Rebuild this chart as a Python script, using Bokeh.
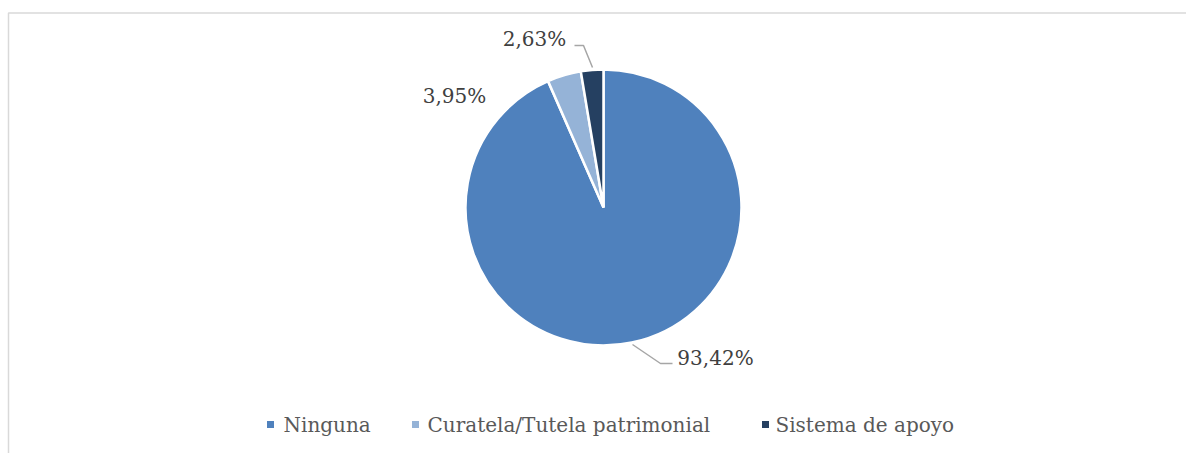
import math
from bokeh.plotting import figure
from bokeh.models import Range1d, ColumnDataSource
from bokeh.core.properties import value
from bokeh.embed import file_html
from bokeh.resources import INLINE

# ---- data ----
categories = ["Ninguna", "Curatela/Tutela patrimonial", "Sistema de apoyo"]
shares = [93.42, 3.95, 2.63]
pct_labels = ["93,42%", "3,95%", "2,63%"]
colors = ["#4F81BD", "#95B3D7", "#254061"]

# ---- layout (page pixel coordinates) ----
W, H = 1186, 453
def py(y):  # page y -> data y
    return H - y

cx, cy, R = 603, 207, 138
label_pos = [(715, 357), (454, 95), (534, 38)]
leaders = [[(632, 344), (660, 363), (672, 363)], [], [(574, 45), (583, 45), (592, 67)]]
legend_sq_x = [270, 415, 765]
legend_txt_x = [283, 427, 775]
legend_y = 424
FONT = value("DejaVu Serif")

p = figure(width=W, height=H, output_backend="svg", toolbar_location=None,
           x_range=Range1d(0, W), y_range=Range1d(0, H), min_border=0)
p.axis.visible = False
p.grid.visible = False
p.outline_line_color = None
p.background_fill_color = "white"

# chart frame (only top/left visible in window)
p.line([8, 8, 1200], [py(470), py(12.5), py(12.5)], line_color="#D9D9D9", line_width=1.5)

# pie wedges, clockwise from 12 o'clock
total = sum(shares)
starts, ends = [], []
a = math.pi / 2
for s in shares:
    starts.append(a)
    a -= 2 * math.pi * s / total
    ends.append(a)
src = ColumnDataSource(dict(start=starts, end=ends, color=colors))
p.wedge(x=cx, y=py(cy), radius=R, radius_units="screen", start_angle="start", end_angle="end",
        direction="clock", fill_color="color", line_color="white", line_width=2.5, source=src)

# leader lines
for pts in leaders:
    if pts:
        p.line([q[0] for q in pts], [py(q[1]) for q in pts], line_color="#A6A6A6", line_width=1.5)

# data labels
p.text(x=[q[0] for q in label_pos], y=[py(q[1]) for q in label_pos], text=pct_labels,
       text_font=FONT, text_font_size="20px", text_color="#404040",
       text_align="center", text_baseline="middle")

# legend
p.rect(x=legend_sq_x, y=[py(legend_y)] * 3, width=7, height=7, width_units="screen",
       height_units="screen", fill_color=colors, line_color=None)
p.text(x=legend_txt_x, y=[py(legend_y)] * 3, text=categories,
       text_font=FONT, text_font_size="20px", text_color="#595959",
       text_align="left", text_baseline="middle")

open("out.html", "w").write(file_html(p, INLINE))
